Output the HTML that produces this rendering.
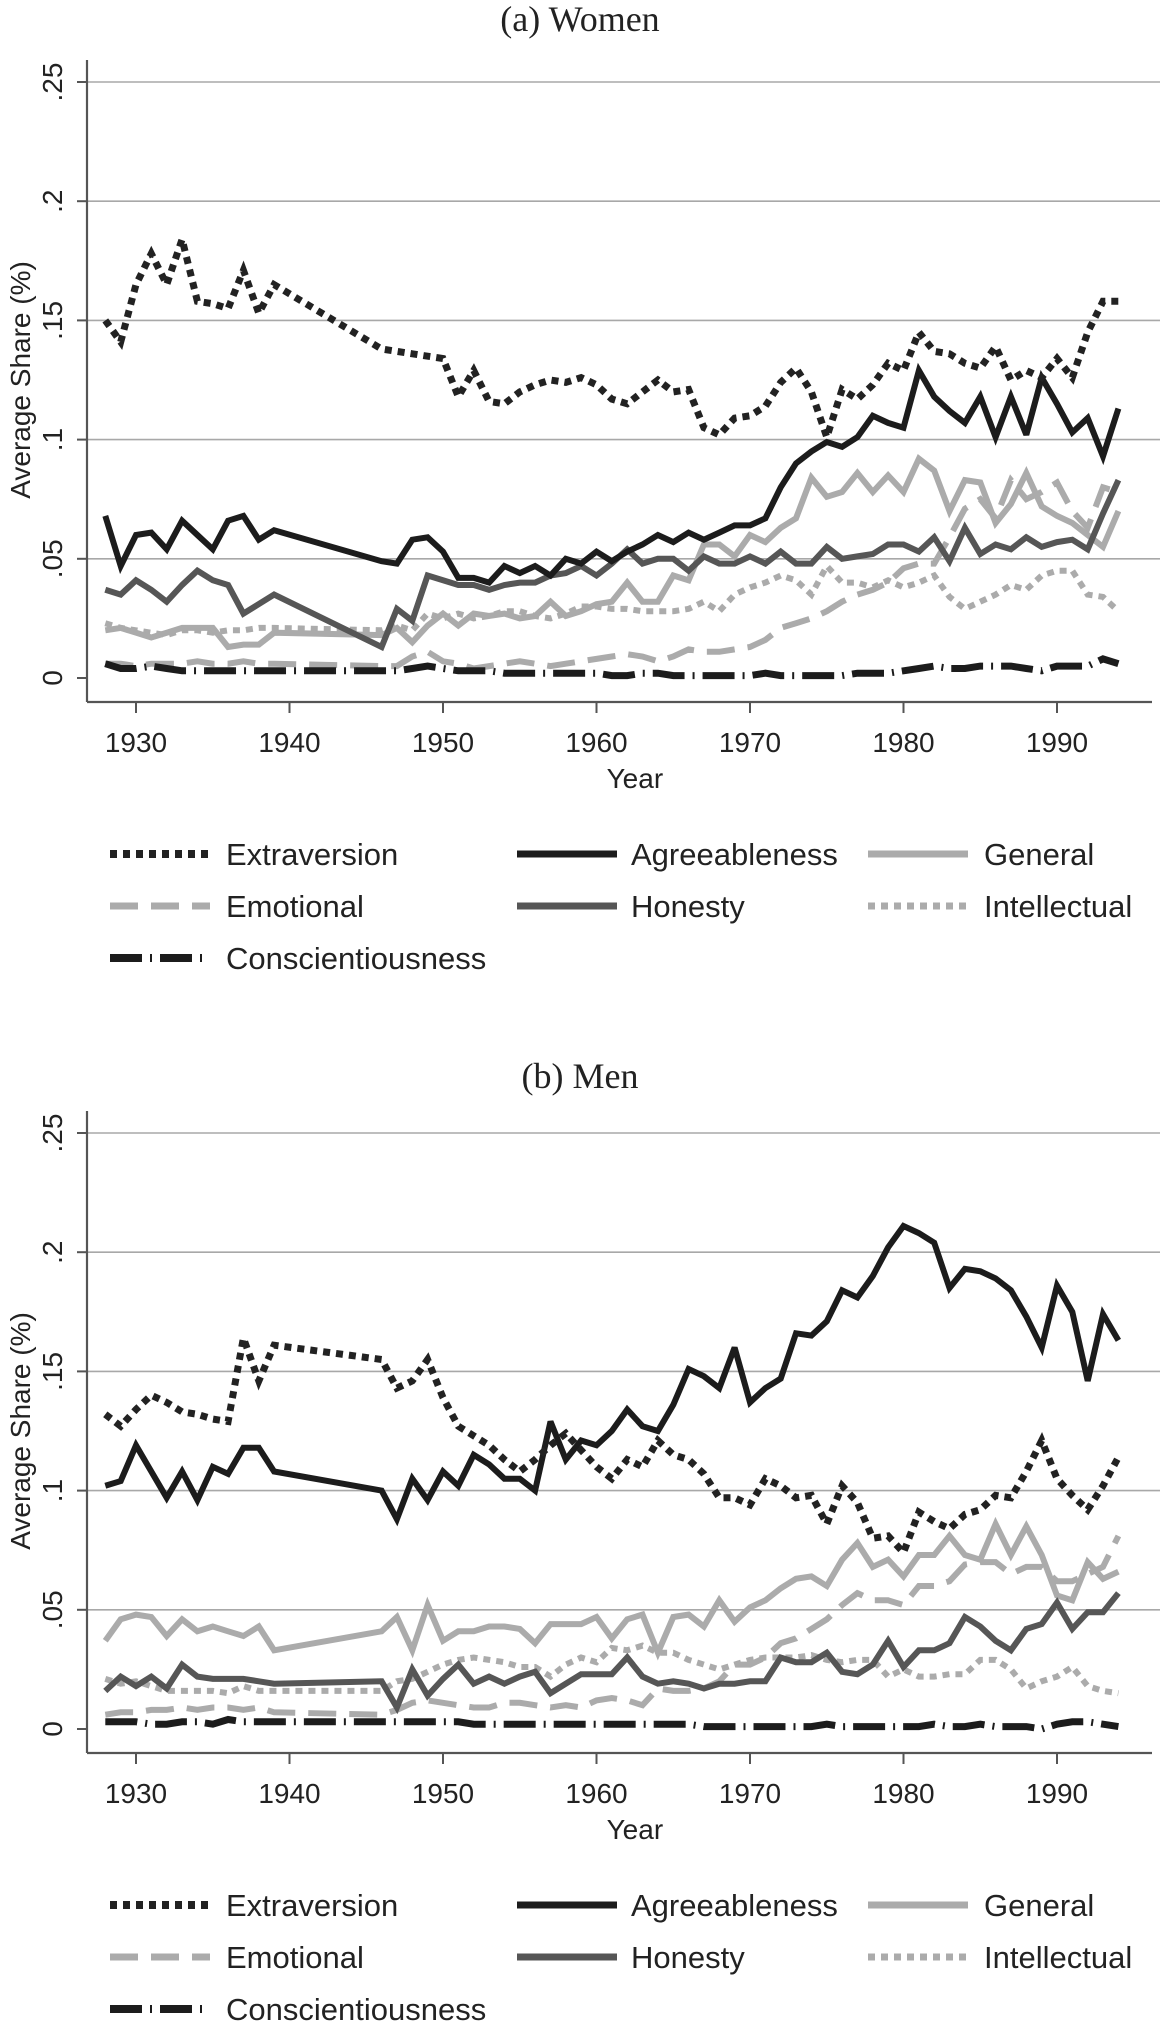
<!DOCTYPE html>
<html><head><meta charset="utf-8">
<style>
html,body{margin:0;padding:0;background:#fff;}
svg{display:block;}
text{font-family:"Liberation Sans",Arial,sans-serif;fill:#222;}
.ttl{font-family:"Liberation Serif","Times New Roman",serif;}
</style></head>
<body>
<svg id="chart" width="1160" height="2034" viewBox="0 0 1160 2034" xmlns="http://www.w3.org/2000/svg"></svg>
<script>
const years = [1928,1929,1930,1931,1932,1933,1934,1935,1936,1937,1938,1939,1946,1947,1948,1949,1950,1951,1952,1953,1954,1955,1956,1957,1958,1959,1960,1961,1962,1963,1964,1965,1966,1967,1968,1969,1970,1971,1972,1973,1974,1975,1976,1977,1978,1979,1980,1981,1982,1983,1984,1985,1986,1987,1988,1989,1990,1991,1992,1993,1994];
const xTicks = [1930,1940,1950,1960,1970,1980,1990];
const yTicks = [0,0.05,0.1,0.15,0.2,0.25];
const yTickLabels = ["0",".05",".1",".15",".2",".25"];
const seriesNames = ["Extraversion","Agreeableness","General","Emotional","Honesty","Intellectual","Conscientiousness"];

// Panel (a) Women
const extA = [.150,.141,.165,.178,.165,.184,.158,.157,.155,.171,.153,.165, .138,.137,.136,.135, .134,.118,.129,.116,.115,.120,.123,.125,.124,.126, .123,.117,.115,.120,.125,.120,.121,.105,.102,.109, .110,.114,.124,.130,.120,.101,.121,.117,.123,.132, .129,.145,.137,.136,.132,.130,.139,.125,.129,.126, .134,.126,.145,.158,.158];
const agrA = [.068,.047,.060,.061,.054,.066,.060,.054,.066,.068,.058,.062, .049,.048,.058,.059, .053,.042,.042,.040,.047,.044,.047,.043,.050,.048, .053,.049,.053,.056,.060,.057,.061,.058,.061,.064, .064,.067,.080,.090,.095,.099,.097,.101,.110,.107, .105,.129,.118,.112,.107,.118,.101,.118,.102,.126, .115,.103,.109,.093,.113];
const genA = [.020,.021,.019,.017,.019,.021,.021,.021,.013,.014,.014,.019, .018,.021,.015,.022, .027,.022,.027,.026,.027,.025,.026,.032,.026,.028, .031,.032,.040,.032,.032,.043,.041,.056,.056,.051, .060,.057,.063,.067,.084,.076,.078,.086,.078,.085, .078,.092,.087,.070,.083,.082,.065,.073,.086,.072, .068,.065,.060,.055,.070];
const emoA = [.006,.006,.005,.006,.006,.006,.007,.006,.006,.007,.006,.006, .005,.005,.009,.011, .007,.006,.004,.005,.006,.007,.006,.005,.006,.007, .008,.009,.010,.009,.007,.009,.012,.011,.011,.012, .013,.016,.021,.023,.025,.028,.032,.035,.037,.040, .046,.048,.048,.059,.071,.075,.067,.083,.075,.078, .082,.070,.063,.080,.078];
const honA = [.037,.035,.041,.037,.032,.039,.045,.041,.039,.027,.031,.035, .013,.029,.024,.043, .041,.039,.039,.037,.039,.040,.040,.043,.044,.047, .043,.048,.054,.048,.050,.050,.045,.051,.048,.048, .051,.048,.053,.048,.048,.055,.050,.051,.052,.056, .056,.053,.059,.049,.063,.052,.056,.054,.059,.055, .057,.058,.054,.069,.083];
const intA = [.023,.021,.020,.019,.018,.020,.020,.019,.020,.020,.021,.021, .020,.022,.020,.027, .025,.027,.025,.026,.028,.028,.026,.025,.027,.030, .030,.029,.029,.028,.028,.028,.029,.032,.028,.035, .038,.040,.043,.041,.035,.047,.040,.040,.038,.041, .038,.040,.043,.034,.029,.032,.035,.039,.037,.043, .045,.045,.035,.034,.028];
const conA = [.006,.004,.004,.005,.004,.003,.003,.003,.003,.003,.003,.003, .003,.003,.004,.005, .004,.003,.003,.003,.002,.002,.002,.002,.002,.002, .002,.001,.001,.002,.002,.001,.001,.001,.001,.001, .001,.002,.001,.001,.001,.001,.001,.002,.002,.002, .003,.004,.005,.004,.004,.005,.005,.005,.004,.003, .005,.005,.005,.008,.006];

// Panel (b) Men
const extB = [.132,.127,.134,.140,.137,.133,.132,.130,.129,.164,.146,.161, .155,.143,.146,.155, .139,.127,.123,.119,.113,.108,.113,.119,.124,.117, .110,.105,.113,.110,.121,.115,.113,.107,.097,.097, .094,.105,.102,.097,.098,.086,.102,.095,.080,.081, .074,.091,.087,.084,.090,.092,.098,.097,.108,.121, .105,.098,.092,.102,.114];
const agrB = [.102,.104,.119,.108,.097,.108,.096,.110,.107,.118,.118,.108, .100,.088,.105,.096, .108,.102,.115,.111,.105,.105,.100,.129,.113,.121, .119,.125,.134,.127,.125,.136,.151,.148,.143,.160, .137,.143,.147,.166,.165,.171,.184,.181,.190,.202, .211,.208,.204,.185,.193,.192,.189,.184,.173,.160, .186,.175,.146,.174,.163];
const genB = [.037,.046,.048,.047,.039,.046,.041,.043,.041,.039,.043,.033, .041,.047,.033,.052, .037,.041,.041,.043,.043,.042,.036,.044,.044,.044, .047,.038,.046,.048,.032,.047,.048,.043,.054,.045, .051,.054,.059,.063,.064,.060,.071,.078,.068,.071, .064,.073,.073,.081,.073,.071,.086,.073,.085,.073, .056,.054,.070,.063,.066];
const emoB = [.006,.007,.007,.008,.008,.009,.008,.009,.009,.008,.009,.007, .006,.008,.011,.012, .011,.010,.009,.009,.011,.011,.010,.009,.010,.009, .012,.013,.012,.010,.017,.016,.016,.017,.020,.027, .027,.030,.036,.038,.042,.046,.052,.057,.054,.054, .052,.060,.060,.062,.069,.070,.070,.065,.068,.068, .062,.062,.065,.068,.081];
const honB = [.016,.022,.018,.022,.017,.027,.022,.021,.021,.021,.020,.019, .020,.009,.025,.014, .021,.027,.019,.022,.019,.022,.024,.015,.019,.023, .023,.023,.030,.022,.019,.020,.019,.017,.019,.019, .020,.020,.030,.028,.028,.032,.024,.023,.027,.037, .026,.033,.033,.036,.047,.043,.037,.033,.042,.044, .053,.042,.049,.049,.057];
const intB = [.021,.019,.020,.018,.016,.016,.016,.016,.015,.018,.016,.016, .016,.020,.021,.024, .027,.029,.030,.029,.028,.026,.026,.022,.027,.030, .028,.034,.033,.035,.032,.032,.029,.027,.025,.027, .029,.030,.030,.030,.031,.029,.028,.029,.029,.022, .025,.022,.022,.023,.023,.029,.029,.025,.017,.020, .022,.026,.018,.016,.015];
const conB = [.003,.003,.003,.002,.002,.003,.003,.002,.004,.003,.003,.003, .003,.003,.003,.003, .003,.003,.002,.002,.002,.002,.002,.002,.002,.002, .002,.002,.002,.002,.002,.002,.002,.001,.001,.001, .001,.001,.001,.001,.001,.002,.001,.001,.001,.001, .001,.001,.002,.001,.001,.002,.001,.001,.001,.000, .002,.003,.003,.002,.001];

const NS = "http://www.w3.org/2000/svg";
const svg = document.getElementById("chart");
function el(tag, attrs, parent){
  const e = document.createElementNS(NS, tag);
  for (const k in attrs) e.setAttribute(k, attrs[k]);
  (parent||svg).appendChild(e);
  return e;
}
const styles = {
  "Extraversion":{stroke:"#222",w:7,dash:"7 6"},
  "Agreeableness":{stroke:"#1c1c1c",w:6,dash:""},
  "General":{stroke:"#ababab",w:6,dash:""},
  "Emotional":{stroke:"#ababab",w:6,dash:"28 13"},
  "Honesty":{stroke:"#565656",w:6,dash:""},
  "Intellectual":{stroke:"#ababab",w:6,dash:"7 6"},
  "Conscientiousness":{stroke:"#1c1c1c",w:7,dash:"32 8 2 8"}
};
const xLeft = 87, xRight = 1160;
function xScale(yr){ return 136 + (yr - 1930) * 15.35; }

function drawPanel(p){
  const g = el("g", {});
  
  
  const yScale = v => p.zeroY - v / 0.05 * 119.2;
  const t = el("text", {x:580, y:p.titleY, "text-anchor":"middle", "font-size":36, class:"ttl"}, g);
  t.textContent = p.title;
  
  
  // gridlines + y ticks
  yTicks.forEach((v,i)=>{
    const y = yScale(v);
    if (i>0){
      const gl = el("line",{x1:xLeft,x2:xRight,y1:y,y2:y,stroke:"#a8a8a8","stroke-width":1.6},g);
      
      
    }
    el("line",{x1:77,x2:xLeft,y1:y,y2:y,stroke:"#555","stroke-width":2},g);
    const tl = el("text",{x:0,y:0,"text-anchor":"middle","font-size":28,transform:`translate(62,${y}) rotate(-90)`},g);
    tl.textContent = yTickLabels[i];
    
    
  });
  const axisY = p.zeroY + 24;
  const ya = el("line",{x1:xLeft,x2:xLeft,y1:p.zeroY-596-22,y2:axisY,stroke:"#555","stroke-width":2.2},g);
  
  
  const xa = el("line",{x1:xLeft,x2:1152,y1:axisY,y2:axisY,stroke:"#555","stroke-width":2.2},g);
  
  
  xTicks.forEach(yr=>{
    const x = xScale(yr);
    el("line",{x1:x,x2:x,y1:axisY,y2:axisY+11,stroke:"#555","stroke-width":2},g);
    const tl = el("text",{x:x,y:axisY+50,"text-anchor":"middle","font-size":28},g);
    tl.textContent = yr;
    
    
  });
  const xt = el("text",{x:xScale(1962.5),y:axisY+86,"text-anchor":"middle","font-size":28},g);
  xt.textContent = "Year";
  
  
  const ytl = el("text",{x:0,y:0,"text-anchor":"middle","font-size":28,transform:`translate(30,${p.zeroY-298}) rotate(-90)`},g);
  ytl.textContent = "Average Share (%)";
  
  
  // series (draw order: light first, dark last)
  const order = ["Intellectual","Emotional","General","Honesty","Conscientiousness","Agreeableness","Extraversion"];
  order.forEach(name=>{
    const vals = p.series[name];
    const st = styles[name];
    const pts = years.map((yr,i)=>xScale(yr).toFixed(1)+","+yScale(vals[i]).toFixed(1)).join(" ");
    const pl = el("polyline",{points:pts,fill:"none",stroke:st.stroke,"stroke-width":st.w,"stroke-linejoin":"miter","stroke-miterlimit":3,"stroke-dasharray":st.dash},g);
    
    
  });
  // legend
  const cols = [[110,226],[517,631],[868,984]];
  const legendOrder = ["Extraversion","Agreeableness","General","Emotional","Honesty","Intellectual","Conscientiousness"];
  legendOrder.forEach((name,i)=>{
    const r = Math.floor(i/3), c = i%3;
    const cy = p.legendY + r*52;
    const st = styles[name];
    const lg = el("g",{},g);
    
    
    el("line",{x1:cols[c][0],x2:cols[c][0]+100,y1:cy,y2:cy,stroke:st.stroke,"stroke-width":st.w+1,"stroke-dasharray":st.dash},lg);
    const tx = el("text",{x:cols[c][1],y:cy+11,"font-size":31},lg);
    tx.textContent = name;
  });
}

drawPanel({key:"women", title:"(a) Women", titleY:31, zeroY:678, legendY:854,
  series:{"Extraversion":extA,"Agreeableness":agrA,"General":genA,"Emotional":emoA,"Honesty":honA,"Intellectual":intA,"Conscientiousness":conA}});
drawPanel({key:"men", title:"(b) Men", titleY:1088, zeroY:1729, legendY:1905,
  series:{"Extraversion":extB,"Agreeableness":agrB,"General":genB,"Emotional":emoB,"Honesty":honB,"Intellectual":intB,"Conscientiousness":conB}});
</script>
</body></html>
